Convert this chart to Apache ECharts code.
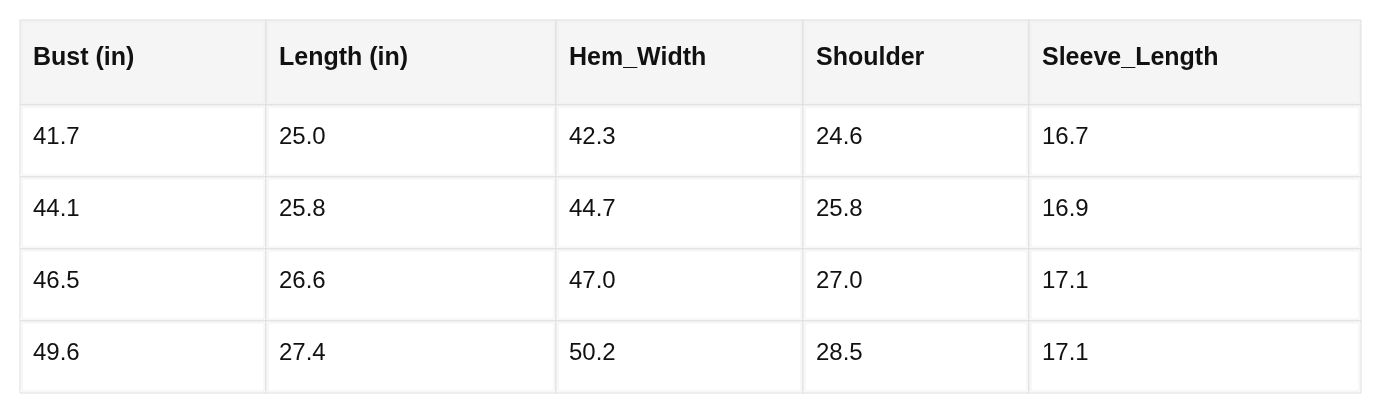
<!DOCTYPE html>
<html><head><meta charset="utf-8">
<script src="https://cdn.jsdelivr.net/npm/echarts@6/dist/echarts.min.js"></script>
<style>html,body{margin:0;padding:0;background:#fff}#c{width:1381px;height:413px}</style>
</head><body><div id="c"></div>
<script>
const columns = ["Bust (in)", "Length (in)", "Hem_Width", "Shoulder", "Sleeve_Length"];
const bust = ["41.7", "44.1", "46.5", "49.6"];
const length = ["25.0", "25.8", "26.6", "27.4"];
const hemWidth = ["42.3", "44.7", "47.0", "50.2"];
const shoulder = ["24.6", "25.8", "27.0", "28.5"];
const sleeveLength = ["16.7", "16.9", "17.1", "17.1"];

const colEdges = [0, 246, 536, 783, 1009, 1341];
const rowEdges = [0, 85, 157, 229, 301, 373];
const cols = [bust, length, hemWidth, shoulder, sleeveLength];

const data = [];
columns.forEach((h, c) => data.push([c, 0, h]));
for (let r = 0; r < 4; r++) cols.forEach((col, c) => data.push([c, r + 1, col[r]]));

const chart = echarts.init(document.getElementById('c'));
chart.setOption({
  animation: false,
  grid: {left: 20, right: 20, top: 20, bottom: 20},
  xAxis: {type: 'value', min: 0, max: 1341, show: false},
  yAxis: {type: 'value', min: 0, max: 373, inverse: true, show: false},
  series: [{
    type: 'custom',
    data: data,
    renderItem: function (params, api) {
      const c = api.value(0), r = api.value(1);
      const p0 = api.coord([colEdges[c], rowEdges[r]]);
      const p1 = api.coord([colEdges[c + 1], rowEdges[r + 1]]);
      const header = r === 0;
      const txt = data[params.dataIndex][2];
      return {
        type: 'group',
        children: [
          {type: 'rect', shape: {x: p0[0], y: p0[1], width: p1[0] - p0[0], height: p1[1] - p0[1]},
           style: {fill: header ? '#f5f5f5' : '#fff', stroke: '#dddddd', lineWidth: 1}},
          {type: 'rect', shape: {x: p0[0] + 2, y: p0[1] + 2, width: p1[0] - p0[0] - 4, height: p1[1] - p0[1] - 4},
           style: {fill: 'none', stroke: '#f0f0f0', lineWidth: 1}},
          {type: 'text', style: {text: txt, x: p0[0] + 13, y: (p0[1] + p1[1]) / 2 - 4,
            fill: '#111', font: header ? 'bold 25px "Liberation Sans", Arial, sans-serif' : '24px "Liberation Sans", Arial, sans-serif',
            verticalAlign: 'middle', align: 'left'}}
        ]
      };
    }
  }]
});
</script></body></html>
